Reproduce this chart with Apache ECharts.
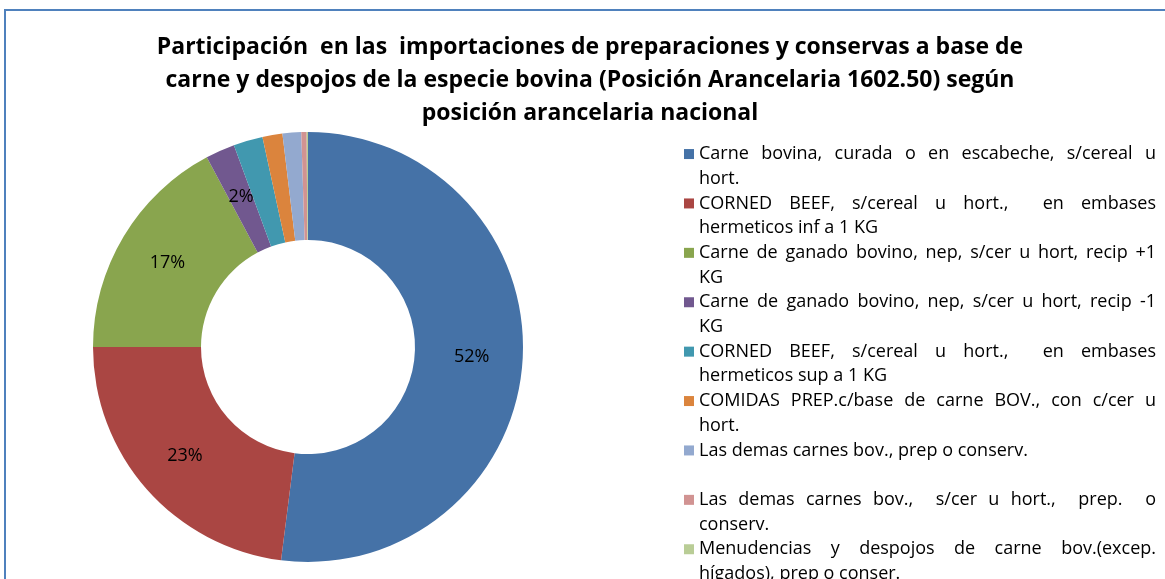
<!DOCTYPE html>
<html>
<head>
<meta charset="utf-8">
<script src="https://cdn.jsdelivr.net/npm/echarts@6/dist/echarts.min.js"></script>
<style>
  html, body { margin: 0; padding: 0; background: #fff; }
  #chart { width: 1165px; height: 579px; }
</style>
</head>
<body>
<div id="chart"></div>
<script>
// ---- data ----
const titleText = 'Participación  en las  importaciones de preparaciones y conservas a base de\ncarne y despojos de la especie bovina (Posición Arancelaria 1602.50) según\nposición arancelaria nacional';
const categories = [
  'Carne bovina, curada o en escabeche, s/cereal u\nhort.',
  'CORNED BEEF, s/cereal u hort.,  en embases\nhermeticos inf a 1 KG',
  'Carne de ganado bovino, nep, s/cer u hort, recip +1\nKG',
  'Carne de ganado bovino, nep, s/cer u hort, recip -1\nKG',
  'CORNED BEEF, s/cereal u hort.,  en embases\nhermeticos sup a 1 KG',
  'COMIDAS PREP.c/base de carne BOV., con c/cer u\nhort.',
  'Las demas carnes bov., prep o conserv.',
  'Las demas carnes bov.,  s/cer u hort.,  prep.  o\nconserv.',
  'Menudencias y despojos de carne bov.(excep.\nhígados), prep o conser.'
];
const values = [52.0, 23.0, 17.2, 2.2, 2.2, 1.5, 1.4, 0.4, 0.1];
const labelledSlices = [0, 1, 2, 3];
const colors = ['#4572A7', '#AA4643', '#89A54E', '#71588F', '#4198AF', '#DB843D', '#93A9CF', '#D19392', '#B9CD96'];

// ---- layout / style ----
const FONT = 'Open Sans';
const LEG_SIZE = 18;
const LEG_LH = 24.7;
const JUSTIFY_W = 457;

const ctx = document.createElement('canvas').getContext('2d');
ctx.font = LEG_SIZE + 'px "' + FONT + '"';
const mw = s => ctx.measureText(s).width;

const rich = {};
const legendText = {};
categories.forEach((name, i) => {
  const lines = name.split('\n');
  const first = lines[0];
  let out = '';
  if (lines.length > 1) {
    const words = first.split(' ');
    const nSpaces = words.length - 1;
    const natural = mw(first);
    const sp = mw(' ');
    const extra = (JUSTIFY_W - natural) / nSpaces;
    const segs = [];
    let cur = null;
    words.forEach((w, k) => {
      if (w === '' && cur) { cur.sp += 1; return; }
      cur = { w: w, sp: k < words.length - 1 ? 1 : 0 };
      segs.push(cur);
    });
    segs.forEach((s, k) => {
      const key = 'j' + i + 'x' + k;
      const st = { fontSize: LEG_SIZE, fontFamily: FONT, lineHeight: LEG_LH, color: '#000' };
      if (k < segs.length - 1) st.width = mw(s.w) + s.sp * (sp + extra);
      rich[key] = st;
      out += '{' + key + '|' + s.w + '}';
    });
    out += '\n' + lines[1];
  } else {
    out = first + '\n ';
  }
  legendText[name] = out;
});

const chart = echarts.init(document.getElementById('chart'));
chart.setOption({
  backgroundColor: '#fff',
  color: colors,
  graphic: [{
    type: 'rect', silent: true,
    shape: { x: 5, y: 10, width: 1200, height: 620 },
    style: { fill: 'none', stroke: '#4F81BD', lineWidth: 2 }
  }],
  title: {
    text: titleText,
    left: 590, top: 31, padding: 0,
    textAlign: 'center',
    textStyle: { fontFamily: FONT, fontSize: 23, fontWeight: 'bold', color: '#000', lineHeight: 33 }
  },
  legend: {
    orient: 'vertical',
    left: 684, top: 117, padding: 0,
    height: 900,
    itemWidth: 10, itemHeight: 10, itemGap: -LEG_LH,
    icon: 'rect',
    data: categories,
    formatter: name => legendText[name],
    textStyle: {
      fontFamily: FONT, fontSize: LEG_SIZE, color: '#000', lineHeight: LEG_LH,
      padding: [LEG_LH, 0, 0, 0],
      rich: rich
    }
  },
  series: [{
    type: 'pie',
    center: [308, 347],
    radius: [107, 215],
    startAngle: 90,
    clockwise: true,
    avoidLabelOverlap: false,
    data: categories.map((c, i) => ({
      name: c, value: values[i],
      label: { show: labelledSlices.indexOf(i) >= 0 }
    })),
    label: {
      position: 'inside',
      formatter: p => Math.round(p.percent) + '%',
      fontFamily: FONT, fontSize: 18, color: '#000'
    },
    labelLine: { show: false },
    itemStyle: { borderWidth: 0 },
    emphasis: { disabled: true }
  }]
});
</script>
</body>
</html>
